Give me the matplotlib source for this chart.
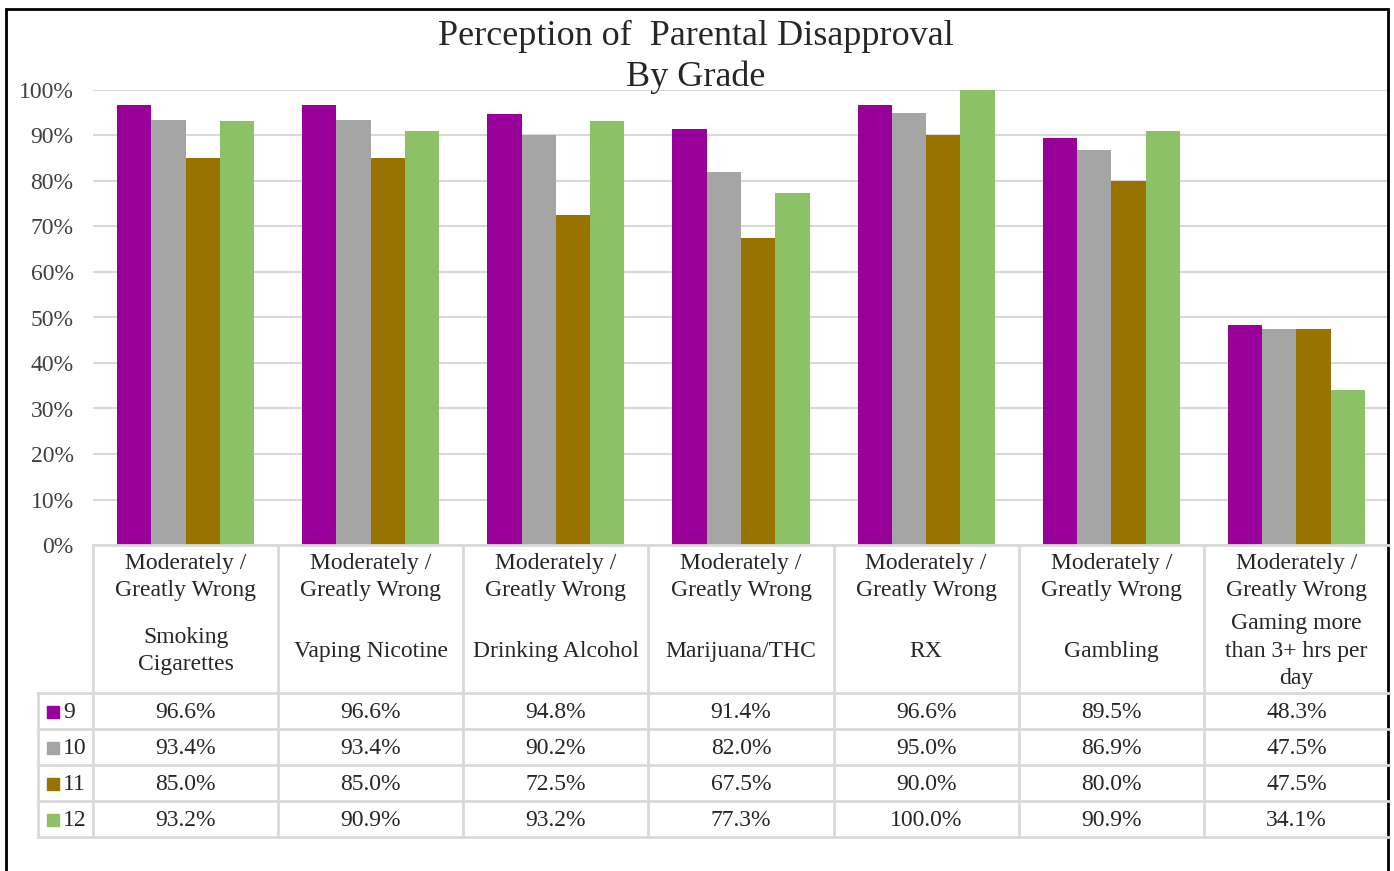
import matplotlib.pyplot as plt
from matplotlib.patches import Rectangle
from matplotlib.lines import Line2D

W, H = 1394, 871

categories = ["Smoking\nCigarettes", "Vaping Nicotine", "Drinking Alcohol",
              "Marijuana/THC", "RX", "Gambling", "Gaming more\nthan 3+ hrs per\nday"]
header = "Moderately /\nGreatly Wrong"
grades = ["9", "10", "11", "12"]
grade9 = [96.6, 96.6, 94.8, 91.4, 96.6, 89.5, 48.3]
grade10 = [93.4, 93.4, 90.2, 82.0, 95.0, 86.9, 47.5]
grade11 = [85.0, 85.0, 72.5, 67.5, 90.0, 80.0, 47.5]
grade12 = [93.2, 90.9, 93.2, 77.3, 100.0, 90.9, 34.1]
series = [grade9, grade10, grade11, grade12]
colors = ["#990099", "#a5a5a5", "#997300", "#8cc168"]

plt.rcParams['font.family'] = ['Liberation Serif', 'DejaVu Serif']
plt.rcParams['text.color'] = '#262626'

fig = plt.figure(figsize=(W / 100, H / 100), dpi=100)


def fx(x):
    return x / W


def fy(y):
    return 1 - y / H


# plot area in pixel terms
left, right, top, bottom = 93, 1389, 90, 545
ax = fig.add_axes([fx(left), fy(bottom), fx(right) - fx(left), fy(top) - fy(bottom)])

n = len(categories)
bw = 0.185
for k, vals in enumerate(series):
    xs = [i + (k - 1.5) * bw for i in range(n)]
    ax.bar(xs, vals, width=bw, color=colors[k], zorder=3)

ax.set_xlim(-0.5, n - 0.5)
ax.set_ylim(0, 100)
ax.set_yticks(range(0, 101, 10))
ax.set_yticklabels([f"{t}%" for t in range(0, 101, 10)], fontsize=17, color='#404040')
ax.set_xticks([])
ax.tick_params(axis='y', length=0, pad=14)
ax.yaxis.grid(True, color='#d9d9d9', lw=1.5)
ax.set_axisbelow(True)
for s in ax.spines.values():
    s.set_visible(False)

# title
fig.text(fx(696), fy(36), "Perception of  Parental Disapproval", ha='center', va='center', fontsize=26)
fig.text(fx(696), fy(77), "By Grade", ha='center', va='center', fontsize=26)

# data table
gc = '#d9d9d9'
colw = (right - left) / n
rows_y = [693, 729, 765, 801, 837]


def hline(y, x0, x1):
    fig.add_artist(Line2D([fx(x0), fx(x1)], [fy(y), fy(y)], color=gc, lw=2))


def vline(x, y0, y1):
    fig.add_artist(Line2D([fx(x), fx(x)], [fy(y0), fy(y1)], color=gc, lw=2))


hline(bottom, left, right)
for y in rows_y:
    hline(y, 38, right)
for i in range(n):
    vline(left + i * colw, bottom, rows_y[-1])
vline(38, rows_y[0], rows_y[-1])

for i, cat in enumerate(categories):
    cx = left + (i + 0.5) * colw
    fig.text(fx(cx), fy(577), header, ha='center', va='center', fontsize=17, linespacing=1.4)
    fig.text(fx(cx), fy(651), cat, ha='center', va='center', fontsize=17, linespacing=1.4)

for k, vals in enumerate(series):
    cy = (rows_y[k] + rows_y[k + 1]) / 2 + 1
    fig.add_artist(Rectangle((fx(47), fy(cy + 6)), fx(12), 12 / H, color=colors[k]))
    fig.text(fx(63), fy(cy), grades[k], ha='left', va='center', fontsize=17)
    for i, v in enumerate(vals):
        cx = left + (i + 0.5) * colw
        fig.text(fx(cx), fy(cy), f"{v:.1f}%", ha='center', va='center', fontsize=17)

# outer frame
fig.add_artist(Rectangle((fx(6), -0.05), fx(1388) - fx(6), fy(9) + 0.05,
                         fill=False, edgecolor='black', lw=2))

fig.savefig("out.png", dpi=100)
